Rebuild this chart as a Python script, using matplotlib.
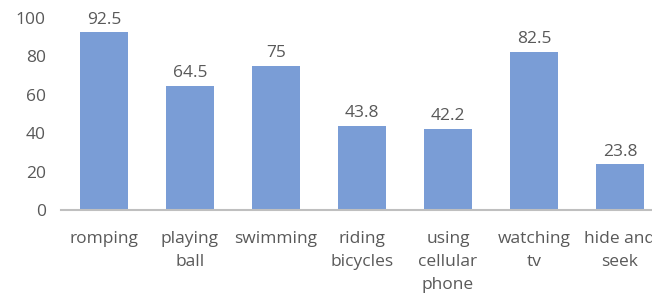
import matplotlib
matplotlib.use('Agg')
import matplotlib.pyplot as plt
import numpy as np

activities = ['romping', 'playing\nball', 'swimming', 'riding\nbicycles',
              'using\ncellular\nphone', 'watching\ntv', 'hide and\nseek']
values = [92.5, 64.5, 75, 43.8, 42.2, 82.5, 23.8]
value_labels = ['92.5', '64.5', '75', '43.8', '42.2', '82.5', '23.8']
yticks = [0, 20, 40, 60, 80, 100]

plt.rcParams['font.family'] = ['Open Sans', 'DejaVu Sans']
txt = '#595959'
fs = 12.5

fig = plt.figure(figsize=(6.52, 2.94), dpi=100)
ax = fig.add_axes([61/652, 84/294, 602/652, 192/294])

x = np.arange(len(values))
ax.bar(x, values, width=0.56, color='#7A9DD6', zorder=2)

for xi, v, lab in zip(x, values, value_labels):
    ax.text(xi, v + 2.5, lab, ha='center', va='bottom', fontsize=fs, color=txt)

ax.set_xlim(-0.5, 6.5)
ax.set_ylim(0, 100)
ax.set_yticks(yticks)
ax.set_xticks(x)
ax.set_xticklabels(activities, fontsize=fs, color=txt, linespacing=1.6)
ax.tick_params(axis='both', length=0, labelsize=fs, colors=txt)
ax.tick_params(axis='x', pad=15)
ax.tick_params(axis='y', pad=11)
for s in ['top', 'right', 'left']:
    ax.spines[s].set_visible(False)
ax.spines['bottom'].set_color('#BFBFBF')
ax.spines['bottom'].set_linewidth(1.5)

fig.savefig('out.png', dpi=100)
